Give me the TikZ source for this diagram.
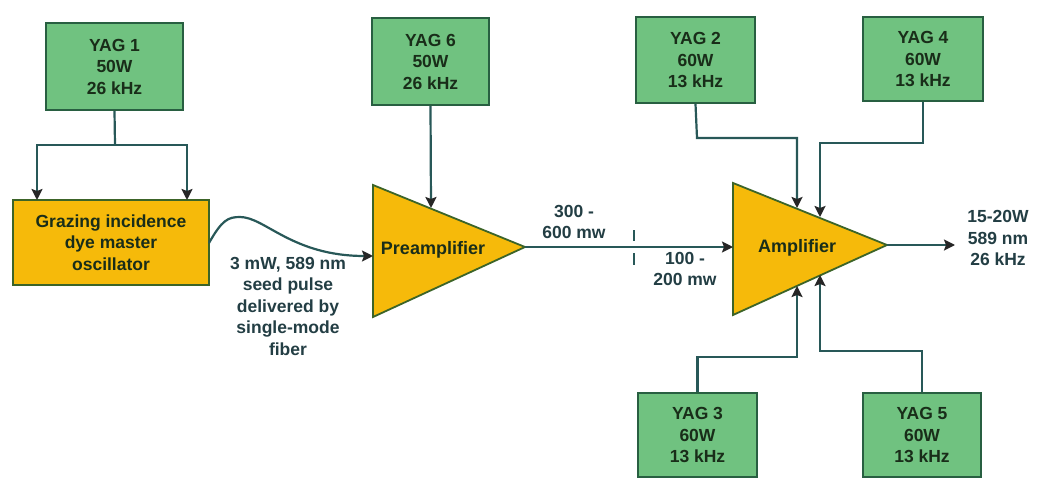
\documentclass[tikz,border=0pt]{standalone}
\usepackage{fontspec}
\setmainfont{Liberation Sans}
\usetikzlibrary{arrows.meta}
\definecolor{yagfill}{RGB}{112,194,128}
\definecolor{yagdraw}{RGB}{40,95,65}
\definecolor{ampfill}{RGB}{246,186,10}
\definecolor{ampdraw}{RGB}{60,100,40}
\definecolor{wire}{RGB}{40,88,88}
\definecolor{txtin}{RGB}{25,45,25}
\definecolor{txtout}{RGB}{35,62,68}
\tikzset{
  yag/.style={draw=yagdraw, line width=2pt, fill=yagfill, align=center, text=txtin,
    font=\fontsize{17.5}{21.5}\selectfont\bfseries, inner sep=0pt},
  osc/.style={draw=ampdraw, line width=2pt, fill=ampfill, align=center, text=txtin,
    font=\fontsize{17.5}{21.5}\selectfont\bfseries, inner sep=0pt},
  amp/.style={draw=ampdraw, line width=1.8pt, fill=ampfill, line join=miter},
  amptext/.style={text=txtin, font=\fontsize{18}{21}\selectfont\bfseries},
  lbl/.style={align=center, text=txtout, font=\fontsize{17.5}{21.5}\selectfont\bfseries, inner sep=0pt},
  wirel/.style={draw=wire, line width=2.2pt},
  arr/.style={wirel, -{Stealth[length=11pt,width=11pt,inset=2pt,fill=black!85,color=black!85]}},
}
\begin{document}
\begin{tikzpicture}[x=1pt,y=-1pt]
\useasboundingbox[fill=white] (0,0) rectangle (1040,484);

% boxes
\node[yag, minimum width=137pt, minimum height=87pt] (yag1) at (114.5,66.5) {YAG 1\\50W\\26 kHz};
\node[yag, minimum width=117pt, minimum height=87pt] (yag6) at (430.5,61.5) {YAG 6\\50W\\26 kHz};
\node[yag, minimum width=119pt, minimum height=86pt] (yag2) at (695.5,60) {YAG 2\\60W\\13 kHz};
\node[yag, minimum width=120pt, minimum height=84pt] (yag4) at (923,59) {YAG 4\\60W\\13 kHz};
\node[yag, minimum width=119pt, minimum height=84pt] (yag3) at (697.5,435) {YAG 3\\60W\\13 kHz};
\node[yag, minimum width=118pt, minimum height=84pt] (yag5) at (922,435) {YAG 5\\60W\\13 kHz};
\node[osc, minimum width=196pt, minimum height=85pt] (osc) at (111,242.5) {Grazing incidence\\dye master\\oscillator};

% triangles
\coordinate (preT) at (373,185);
\coordinate (preB) at (373,317);
\coordinate (preO) at (525,247);
\draw[amp] (preT) -- (preO) -- (preB) -- cycle;
\node[amptext] (pre) at (433,250) {Preamplifier};
\coordinate (ampT) at (733,183);
\coordinate (ampB) at (733,315);
\coordinate (ampO) at (887,245);
\draw[amp] (ampT) -- (ampO) -- (ampB) -- cycle;
\node[amptext] (ampl) at (797,248) {Amplifier};

% connection points
\coordinate (preIn) at (373,256);
\coordinate (preTop) at (431,208);
\coordinate (ampIn) at (733,247);
\coordinate (aT1) at (797,208);
\coordinate (aT2) at (820,217);
\coordinate (aB1) at (797,286);
\coordinate (aB2) at (820,275);
\coordinate (outEnd) at (955,245);
\coordinate (split) at (115,145);
\coordinate (splitL) at (37,145);
\coordinate (splitR) at (187,145);
\coordinate (oscL) at (37,200);
\coordinate (oscR) at (187,200);
\coordinate (fibS) at (209,243);

% YAG1 split
\draw[wirel] (yag1.south) -- (split);
\draw[arr] (split) -- (splitL) -- (oscL);
\draw[arr] (split) -- (splitR) -- (oscR);

% fiber
\draw[arr] (fibS) .. controls (222,220) and (228,217) .. (240,217)
  .. controls (265,217) and (292,256) .. (preIn);

\draw[arr] (yag6.south) -- (preTop);

% pre -> amp
\draw[arr] (preO) -- (ampIn);
\draw[wirel] (634,230) -- (634,241);
\draw[wirel] (634,253) -- (634,265);

% YAG to amp
\draw[arr] (yag2.south) -- (697,138) -- (797,138) -- (aT1);
\draw[arr] (yag4.south) -- (923,143) -- (820,143) -- (aT2);
\draw[arr] (yag3.north) -- (697.5,357) -- (797,357) -- (aB1);
\draw[arr] (yag5.north) -- (922,351) -- (820,351) -- (aB2);

% output
\draw[arr] (ampO) -- (outEnd);

% labels
\node[lbl, anchor=north] (seed) at (288,257) {3 mW, 589 nm\\seed pulse\\delivered by\\single-mode\\fiber};
\node[lbl] (l300) at (574,222) {300 -\\600 mw};
\node[lbl] (l100) at (685,269) {100 -\\200 mw};
\node[lbl] (lout) at (998,238) {15-20W\\589 nm\\26 kHz};
\end{tikzpicture}
\end{document}
